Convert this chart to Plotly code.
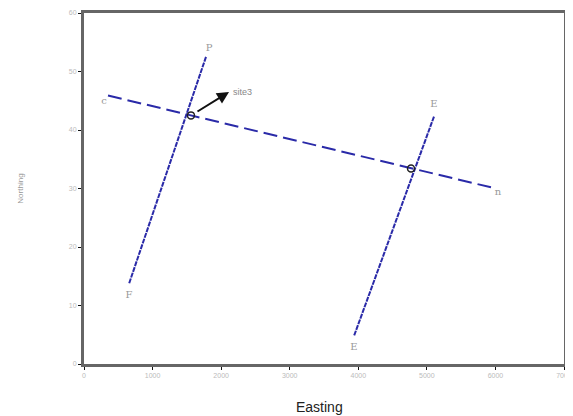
import plotly.graph_objects as go

# Profile lines (Easting, Northing)
line_cn_x = [350, 5935]
line_cn_y = [45.9, 30.2]
line_pf_x = [1779, 656]
line_pf_y = [52.5, 13.7]
line_ee_x = [5104, 3938]
line_ee_y = [42.3, 4.8]

# Intersections
cross_x = [1560, 4769]
cross_y = [42.5, 33.4]

# End labels
end_labels = ["c", "n", "P", "F", "E", "E"]
end_x = [292, 6037, 1823, 656, 5104, 3938]
end_y = [44.9, 29.3, 54.0, 11.7, 44.4, 2.9]

site_label = "site3"
arrow_from = (1633, 43.0)
arrow_to = (2115, 46.5)

x_ticks = [0, 1000, 2000, 3000, 4000, 5000, 6000, 7000]
x_tick_text = ["0", "1000", "2000", "3000", "4000", "5000", "6000", "7000"]
y_ticks = [0, 10, 20, 30, 40, 50, 60]
y_tick_text = ["0", "10", "20", "30", "40", "50", "60"]

blue = "#2a2aa8"
fig = go.Figure()
fig.add_trace(go.Scatter(x=line_cn_x, y=line_cn_y, mode="lines",
                         line=dict(color=blue, width=2, dash="14px,6px")))
fig.add_trace(go.Scatter(x=line_pf_x, y=line_pf_y, mode="lines",
                         line=dict(color=blue, width=2, dash="5px,1px")))
fig.add_trace(go.Scatter(x=line_ee_x, y=line_ee_y, mode="lines",
                         line=dict(color=blue, width=2, dash="5px,1px")))
fig.add_trace(go.Scatter(x=cross_x, y=cross_y, mode="markers",
                         marker=dict(symbol="circle-open", size=7, color="#222",
                                     line=dict(width=1.5))))
fig.add_trace(go.Scatter(x=end_x, y=end_y, mode="text", text=end_labels,
                         textfont=dict(size=10, color="#999", family="DejaVu Serif")))

fig.add_annotation(x=arrow_to[0], y=arrow_to[1], ax=arrow_from[0], ay=arrow_from[1],
                   xref="x", yref="y", axref="x", ayref="y", text="",
                   showarrow=True, arrowhead=2, arrowsize=1.2, arrowwidth=2,
                   arrowcolor="#111")
fig.add_annotation(x=arrow_to[0], y=arrow_to[1], xref="x", yref="y", text=site_label,
                   showarrow=False, xanchor="left", yanchor="middle", xshift=2,
                   font=dict(size=9, color="#888"))

# Axis titles
fig.add_annotation(text="Easting", xref="paper", yref="paper", x=0.49, y=-0.094,
                   xanchor="center", yanchor="top", showarrow=False,
                   font=dict(size=14, color="#222"))
fig.add_annotation(text="Northing", xref="paper", yref="paper", x=-0.133, y=0.5,
                   xanchor="center", yanchor="middle",
                   textangle=-90, showarrow=False, font=dict(size=8, color="#999"))

fig.update_layout(
    width=565, height=408,
    margin=dict(l=76, r=9, t=5, b=52),
    plot_bgcolor="white", paper_bgcolor="white",
    showlegend=False,
    font=dict(family="Liberation Sans"),
)
fig.update_xaxes(range=[0, 7000], tickvals=x_ticks, ticktext=x_tick_text,
                 showgrid=False, zeroline=False, showline=True, linewidth=3,
                 linecolor="#666", mirror=True, ticks="outside", ticklen=3,
                 tickcolor="#111", tickfont=dict(size=7, color="#bbb"),
                 automargin=False)
fig.update_yaxes(range=[0, 60], tickvals=y_ticks, ticktext=y_tick_text,
                 showgrid=False, zeroline=False, showline=True, linewidth=3,
                 linecolor="#666", mirror=True, ticks="outside", ticklen=3,
                 tickcolor="#111", tickfont=dict(size=7, color="#bbb"),
                 automargin=False)

fig.write_html("out.html")
